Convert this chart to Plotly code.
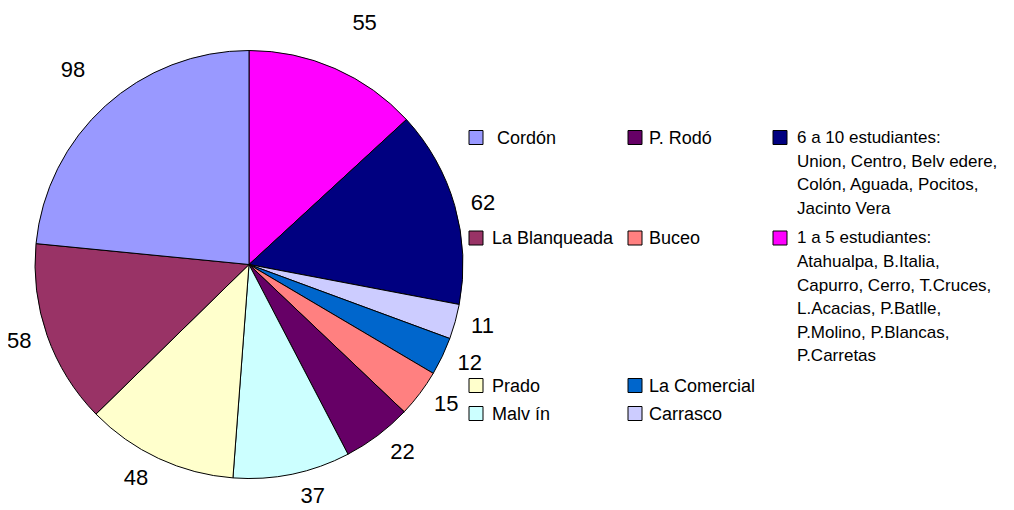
import plotly.graph_objects as go

# slices, clockwise from 12 o'clock
labels = ['1 a 5 estudiantes', '6 a 10 estudiantes', 'Carrasco', 'La Comercial',
          'Buceo', 'P. Rodó', 'Malv ín', 'Prado', 'La Blanqueada', 'Cordón']
values = [55, 62, 11, 12, 15, 22, 37, 48, 58, 98]
colors = ['#FF00FF', '#000080', '#CCCCFF', '#0066CC', '#FF8080',
          '#660066', '#CCFFFF', '#FFFFCC', '#993366', '#9999FF']

# legend entries in the order of the original 3-column box
legend_text = [
    ' Cordón',
    'P. Rodó',
    '6 a 10 estudiantes:<br>Union, Centro, Belv edere,<br>Colón, Aguada, Pocitos,<br>Jacinto Vera',
    'La Blanqueada',
    'Buceo',
    '1 a 5 estudiantes:<br>Atahualpa, B.Italia,<br>Capurro, Cerro, T.Cruces,<br>L.Acacias, P.Batlle,<br>P.Molino, P.Blancas,<br>P.Carretas',
    'Prado',
    'La Comercial',
    'Malv ín',
    'Carrasco',
]
legend_colors = ['#9999FF', '#660066', '#000080', '#993366', '#FF8080',
                 '#FF00FF', '#FFFFCC', '#0066CC', '#CCFFFF', '#CCCCFF']

W, H = 1014, 510
OX, OY = 8, 8  # page body margin
FONT = 'Liberation Sans, Arial, sans-serif'
LINE = 23.5

cx, cy, r = 249 - OX, 264.5 - OY, 214   # pie centre / radius (figure px)
rl = 224                                # radius the value labels hang from


def dom(rad):
    return dict(x=[(cx - rad) / W, (cx + rad) / W],
                y=[(H - cy - rad) / H, (H - cy + rad) / H])


def px(x):
    return (x - OX) / W


def py(y):
    return (H - (y - OY)) / H


# top labels sit a bit higher in the original
templates = ['%{value}<br> ' if i in (0, 9) else '%{value}' for i in range(len(values))]

fig = go.Figure()

# invisible pie that only carries the value labels
fig.add_trace(go.Pie(
    labels=labels, values=values, sort=False, direction='clockwise', rotation=0,
    marker=dict(colors=['rgba(0,0,0,0)'] * len(values), line=dict(width=0)),
    texttemplate=templates, textposition='outside',
    textfont=dict(family=FONT, size=22, color='black'),
    domain=dom(rl), showlegend=False, hoverinfo='skip',
))

fig.add_trace(go.Pie(
    labels=labels, values=values, sort=False, direction='clockwise', rotation=0,
    marker=dict(colors=colors, line=dict(color='black', width=1)),
    textinfo='none',
    domain=dom(r), showlegend=False, hoverinfo='label+value',
))

col_sq = [469, 628, 773]
col_tx = [492, 649, 797]
col_fs = [18, 18, 17]
row_y = [137.5, 238, 385.5, 413.5]
slots = [(0, 0), (1, 0), (2, 0), (0, 1), (1, 1), (2, 1), (0, 2), (1, 2), (0, 3), (1, 3)]

shapes = []
annotations = []
for text, col, (c, rr) in zip(legend_text, legend_colors, slots):
    yc = row_y[rr]
    x0 = col_sq[c]
    shapes.append(dict(type='rect', xref='paper', yref='paper',
                       x0=px(x0), x1=px(x0 + 14),
                       y0=py(yc + 7), y1=py(yc - 7),
                       fillcolor=col, line=dict(color='black', width=1)))
    for i, line in enumerate(text.split('<br>')):
        annotations.append(dict(xref='paper', yref='paper', x=px(col_tx[c] - 2),
                                y=py(yc + i * LINE), xanchor='left', yanchor='middle',
                                text=line, showarrow=False, align='left',
                                font=dict(family=FONT, size=col_fs[c], color='black')))

fig.update_layout(
    width=W, height=H,
    margin=dict(l=0, r=0, t=0, b=0, autoexpand=False),
    paper_bgcolor='white',
    plot_bgcolor='white',
    shapes=shapes,
    annotations=annotations,
)

fig.write_html('out.html')
